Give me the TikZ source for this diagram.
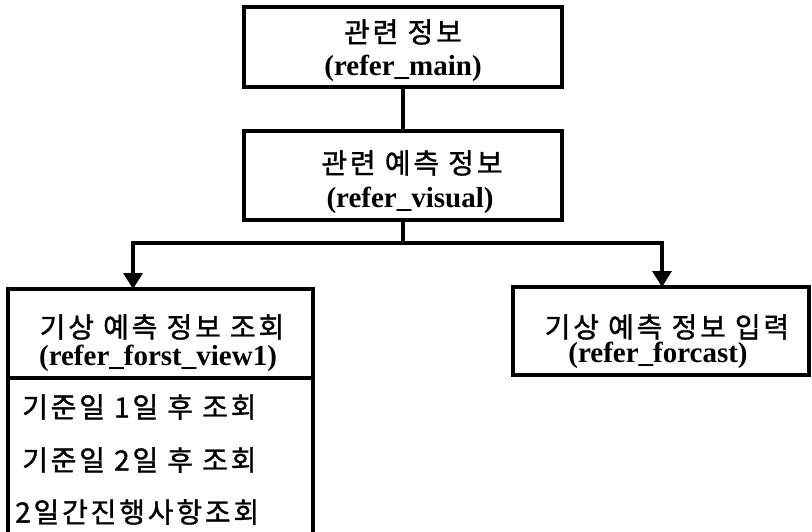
\documentclass[tikz,border=0pt]{standalone}
\usepackage{fontspec}
\setmainfont{Liberation Serif}
\newfontfamily\kr[LetterSpace=10,FakeBold=1.2]{Noto Sans CJK KR}
\usetikzlibrary{arrows.meta}
\tikzset{
  boxline/.style={draw=black, line width=3.2pt, outer sep=0pt},
  krtext/.style={font=\kr\fontsize{28}{32}\selectfont, inner sep=0pt, anchor=center},
  entext/.style={font=\bfseries\fontsize{29}{32}\selectfont, inner sep=0pt, anchor=center},
  itemtext/.style={font=\kr\fontsize{28}{32}\selectfont, inner sep=0pt, anchor=west},
  conn/.style={line width=3.2pt},
  arr/.style={line width=3.2pt, -{Triangle[width=19pt,length=16pt]}}
}
\begin{document}
\begin{tikzpicture}[x=1pt,y=-1pt]
\useasboundingbox (0,0) rectangle (812,531);
\clip (0,0) rectangle (812,531);
% boxes
\node[boxline, minimum width=318pt, minimum height=80pt, inner sep=0pt] (main) at (403,47) {};
\node[boxline, minimum width=318pt, minimum height=89pt, inner sep=0pt] (visual) at (403,175.5) {};
\node[boxline, minimum width=305pt, minimum height=89pt, inner sep=0pt] (view) at (160.5,333.5) {};
\coordinate (lbl) at ([yshift=-200pt]view.south west);
\coordinate (lbr) at ([yshift=-200pt]view.south east);
\draw[boxline] (view.south west) -- (lbl) -- (lbr) -- (view.south east);
\node[boxline, minimum width=296pt, minimum height=88pt, inner sep=0pt] (forcast) at (661,331) {};
% texts
\node[krtext] (t1) at (403,32) {관련 정보};
\node[entext] (e1) at (403,68) {(refer\_main)};
\node[krtext] (t2) at (412,163) {관련 예측 정보};
\node[entext] (e2) at (410,200) {(refer\_visual)};
\node[krtext] (t3) at (162,327) {기상 예측 정보 조회};
\node[entext] (e3) at (158,358) {(refer\_forst\_view1)};
\node[krtext] (t4) at (667,327) {기상 예측 정보 입력};
\node[entext] (e4) at (658,355) {(refer\_forcast)};
\node[itemtext] (i1) at (22,407) {기준일 1일 후 조회};
\node[itemtext] (i2) at (22,460) {기준일 2일 후 조회};
\node[itemtext] (i3) at (15,512) {2일간진행사항조회};
% connectors
\coordinate (split) at (403,243);
\coordinate (la) at (133,243);
\coordinate (ra) at (662,243);
\draw[conn] (main.south) -- (visual.north);
\draw[conn] (visual.south) -- (split);
\draw[arr] (split) -- (la) -- (la |- view.north);
\draw[arr] (split) -- (ra) -- (ra |- forcast.north);
\end{tikzpicture}
\end{document}
